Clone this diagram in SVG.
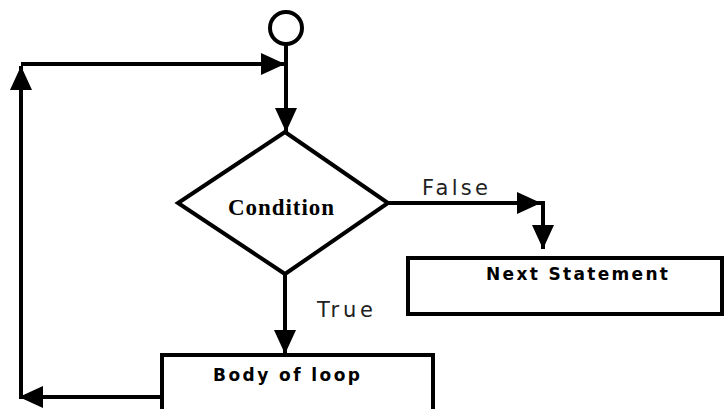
<svg xmlns="http://www.w3.org/2000/svg" width="726" height="409" viewBox="0 0 726 409">
<style>
.ln{fill:none;stroke:#000;stroke-width:4}
.shape{fill:#fff;stroke:#000;stroke-width:4}
.lbl{font-family:"DejaVu Sans",Verdana,sans-serif;font-size:21px;fill:#222}
.bt{font-family:"DejaVu Sans",Verdana,sans-serif;font-size:17px;font-weight:bold;fill:#000}
.cond{font-family:"Liberation Serif","Times New Roman",serif;font-size:23px;font-weight:bold;fill:#000}
</style>
<defs>
<marker id="ah" markerUnits="userSpaceOnUse" markerWidth="24" markerHeight="22" refX="24" refY="11" orient="auto">
<path d="M0,0 L24,11 L0,22 z" fill="#000"/>
</marker>
</defs>
<g id="connectors">
<path class="ln" d="M286,45 V132" marker-end="url(#ah)"/>
<path class="ln" d="M21,64 H285" marker-end="url(#ah)"/>
<path class="ln" d="M388,203 H541" marker-end="url(#ah)"/>
<path class="ln" d="M543,201 V249" marker-end="url(#ah)"/>
<path class="ln" d="M285,274 V354" marker-end="url(#ah)"/>
<path class="ln" d="M168,397 H19" marker-end="url(#ah)"/>
<path class="ln" d="M21,399 V66" marker-end="url(#ah)"/>
</g>
<g id="start"><circle class="shape" cx="286" cy="28" r="16" stroke-width="3.5"/></g>
<g id="condition">
<polygon class="shape" points="285,132 388,203 285,274 178,203"/>
<text class="cond" x="281" y="215" text-anchor="middle" textLength="106" lengthAdjust="spacing">Condition</text>
</g>
<g id="next">
<rect class="shape" x="408" y="258" width="314" height="56"/>
<text class="bt" x="486" y="280" textLength="182" lengthAdjust="spacing">Next Statement</text>
</g>
<g id="body">
<rect class="shape" x="162" y="355" width="271" height="60"/>
<text class="bt" x="213" y="381" textLength="147" lengthAdjust="spacing">Body of loop</text>
</g>
<text class="lbl" x="422" y="195" textLength="66" lengthAdjust="spacing">False</text>
<text class="lbl" x="317" y="317" textLength="56" lengthAdjust="spacing">True</text>
</svg>
